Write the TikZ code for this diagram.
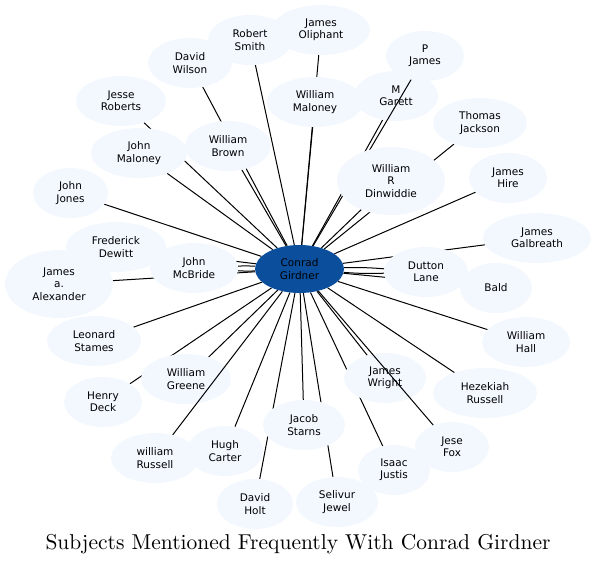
\documentclass[tikz,border=0pt]{standalone}
\usepackage{fontspec}
\newfontfamily\nodefont{DejaVu Sans}
\newfontfamily\titlefont{lmroman10-regular}[Extension=.otf]
\usetikzlibrary{shapes.geometric}
\definecolor{nodefill}{HTML}{F3F8FF}
\definecolor{hubfill}{HTML}{0B4F9C}
\pgfdeclarelayer{edgesA}
\pgfdeclarelayer{nodesA}
\pgfdeclarelayer{edgesB}
\pgfsetlayers{edgesA,nodesA,edgesB,main}
\tikzset{
  nd/.style={ellipse, fill=nodefill, draw=none, inner sep=0pt, align=center,
    font=\nodefont\fontsize{10.5}{12.3}\selectfont, text=black},
  hub/.style={nd, fill=hubfill},
  lnk/.style={draw=black, line width=1pt},
  ttl/.style={font=\titlefont\fontsize{21.5}{25}\selectfont, inner sep=0pt, anchor=base}
}
\begin{document}
\begin{tikzpicture}[x=1pt, y=-1pt]
\useasboundingbox (0,0) rectangle (596,565);
% hub
\node[hub, minimum width=89, minimum height=48] (c) at (299.5,269) {Conrad\\Girdner};
% nodes (main layer)
\node[nd, minimum width=98, minimum height=50] (jo) at (321,30) {James\\Oliphant};
\node[nd, minimum width=84, minimum height=50] (rs) at (250,40) {Robert\\Smith};
\node[nd, minimum width=84, minimum height=50] (dw) at (190,63) {David\\Wilson};
\node[nd, minimum width=78, minimum height=50] (pj) at (425,56) {P\\James};
\node[nd, minimum width=96, minimum height=50] (wm) at (315,102) {William\\Maloney};
\node[nd, minimum width=90, minimum height=50] (jr) at (121,101) {Jesse\\Roberts};
\node[nd, minimum width=94, minimum height=50] (tj) at (480,123) {Thomas\\Jackson};
\node[nd, minimum width=96, minimum height=50] (jm) at (139,153) {John\\Maloney};
\node[nd, minimum width=86, minimum height=50] (wb) at (228,146) {William\\Brown};
\node[nd, minimum width=108, minimum height=68] (wd) at (391,181) {William\\R\\Dinwiddie};
\node[nd, minimum width=78, minimum height=50] (jh) at (508,178) {James\\Hire};
\node[nd, minimum width=75, minimum height=50] (jj) at (70.5,193) {John\\Jones};
\node[nd, minimum width=108, minimum height=50] (jg) at (537,238) {James\\Galbreath};
\node[nd, minimum width=100, minimum height=50] (fd) at (116,247) {Frederick\\Dewitt};
\node[nd, minimum width=108, minimum height=68] (ja) at (59,284) {James\\a.\\Alexander};
\node[nd, minimum width=88, minimum height=50] (mb) at (194,268) {John\\McBride};
\node[nd, minimum width=84, minimum height=50] (dl) at (426,272) {Dutton\\Lane};
\node[nd, minimum width=72, minimum height=50] (ba) at (496,288) {Bald};
\node[nd, minimum width=94, minimum height=50] (ls) at (94,341) {Leonard\\Stames};
\node[nd, minimum width=88, minimum height=50] (wh) at (526,342) {William\\Hall};
\node[nd, minimum width=104, minimum height=50] (hr) at (485,393) {Hezekiah\\Russell};
\node[nd, minimum width=78, minimum height=50] (hd) at (103,402) {Henry\\Deck};
\node[nd, minimum width=82, minimum height=50] (js) at (304,425) {Jacob\\Starns};
\node[nd, minimum width=74, minimum height=50] (jf) at (452,447) {Jese\\Fox};
\node[nd, minimum width=88, minimum height=50] (wr) at (155,458) {william\\Russell};
\node[nd, minimum width=76, minimum height=50] (hc) at (225,451) {Hugh\\Carter};
\node[nd, minimum width=72, minimum height=50] (ij) at (394,470) {Isaac\\Justis};
\node[nd, minimum width=76, minimum height=50] (dh) at (255,504) {David\\Holt};
\node[nd, minimum width=82, minimum height=50] (sj) at (337,502) {Selivur\\Jewel};
% nodes under some edges
\begin{pgfonlayer}{nodesA}
\node[nd, minimum width=84, minimum height=50] (mg) at (396,96) {M\\Garett};
\node[nd, minimum width=82, minimum height=50] (jw) at (385,378) {James\\Wright};
\node[nd, minimum width=90, minimum height=50] (wg) at (186,379) {William\\Greene};
\end{pgfonlayer}
% edges hidden under nodes
\begin{pgfonlayer}{edgesA}
\draw[lnk] (c) -- (rs);
\draw[lnk] (c) -- (dw);
\draw[lnk] (c) -- (jo);
\draw[lnk] (c) -- (wm);
\draw[lnk] (c) -- (mg);
\draw[lnk] (c) -- (jr);
\draw[lnk] (c) -- (jm);
\draw[lnk] (c) -- (wb);
\draw[lnk] (c) -- (wd);
\draw[lnk] (c) -- (tj);
\draw[lnk] (c) -- (jh);
\draw[lnk] (c) -- (jj);
\draw[lnk] (c) -- (jg);
\draw[lnk] (c) -- (fd);
\draw[lnk] (c) to[bend left=3] (mb);
\draw[lnk] (c) to[bend right=3] (mb);
\draw[lnk] (c) -- (ja);
\draw[lnk] (c) to[bend left=3] (dl);
\draw[lnk] (c) to[bend right=3] (dl);
\draw[lnk] (c) -- (ba);
\draw[lnk] (c) -- (ls);
\draw[lnk] (c) -- (wh);
\draw[lnk] (c) -- (wg);
\draw[lnk] (c) -- (jw);
\draw[lnk] (c) -- (hr);
\draw[lnk] (c) -- (hd);
\draw[lnk] (c) -- (js);
\draw[lnk] (c) -- (ij);
\draw[lnk] (c) -- (hc);
\draw[lnk] (c) -- (dh);
\draw[lnk] (c) -- (sj);
\end{pgfonlayer}
% edges drawn over some nodes
\begin{pgfonlayer}{edgesB}
\draw[lnk] (c) -- (pj);
\draw[lnk] (c) -- (jf);
\draw[lnk] (c) -- (wr);
\end{pgfonlayer}
% title
\node[ttl] (title) at (298,549) {Subjects Mentioned Frequently With Conrad Girdner};
\end{tikzpicture}
\end{document}
